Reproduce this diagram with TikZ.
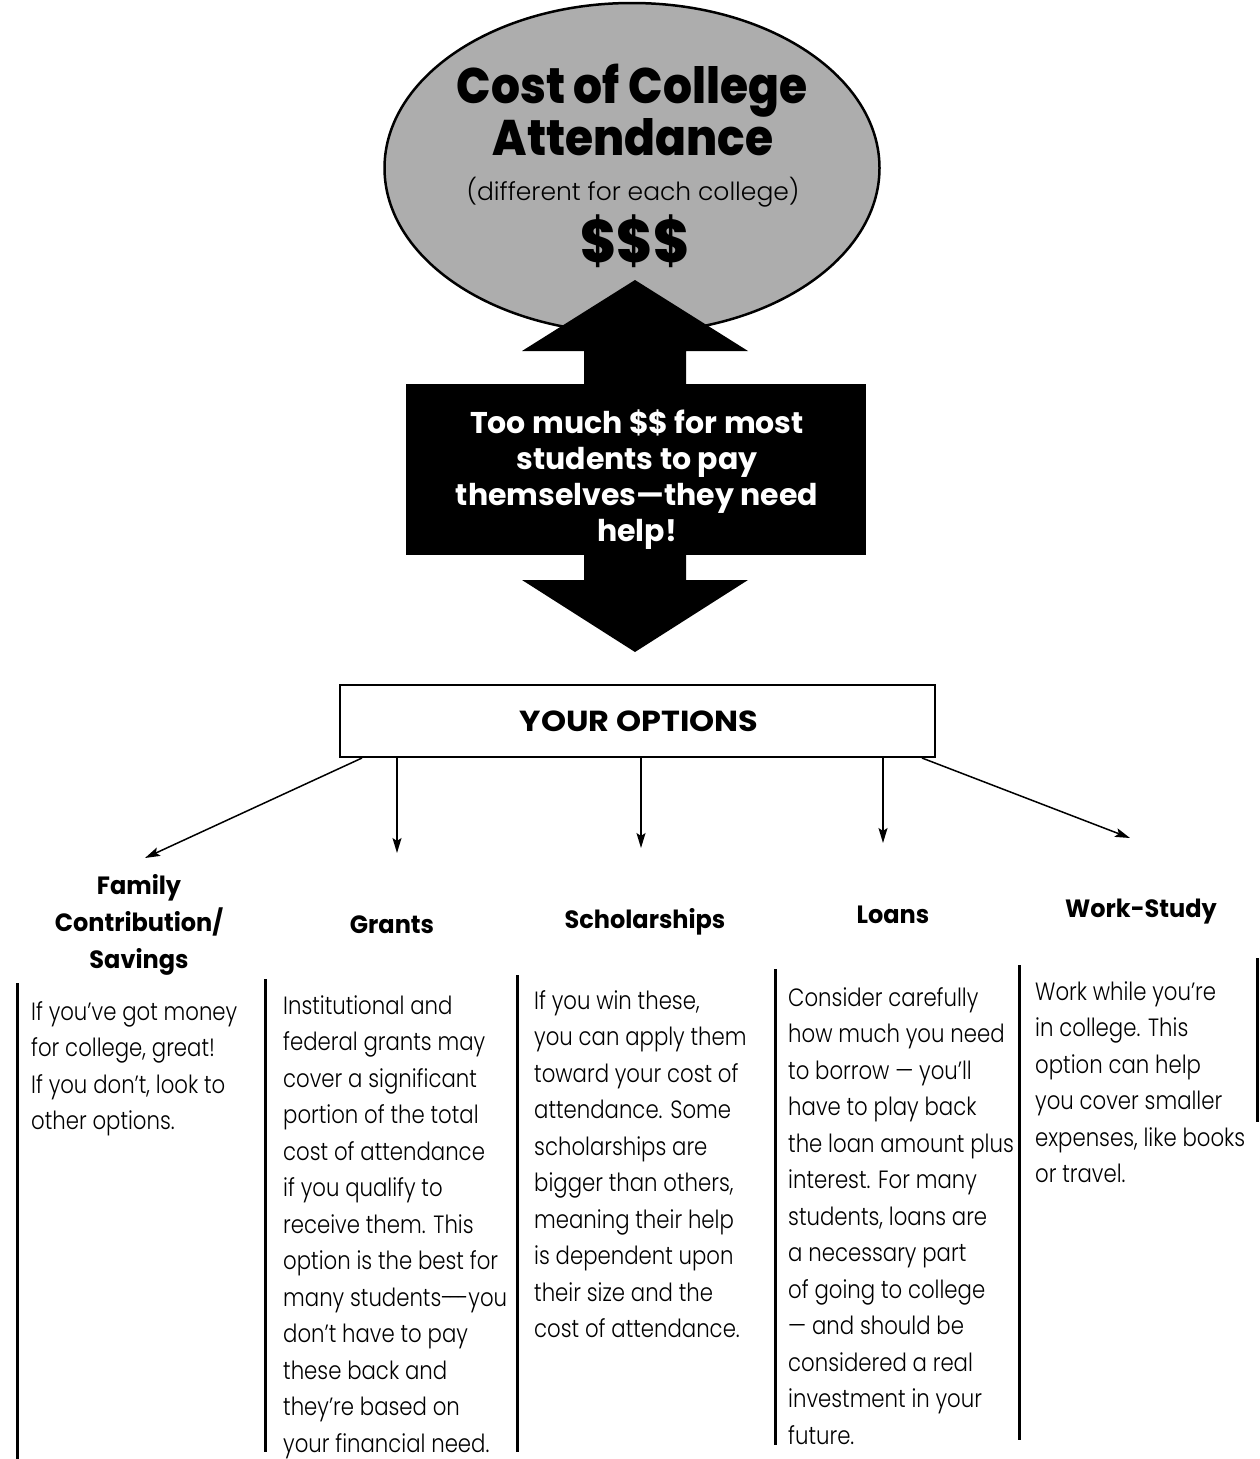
\documentclass[tikz,border=0pt]{standalone}
\usepackage{fontspec}
\usetikzlibrary{shapes.geometric,arrows.meta}
\newfontfamily\bodyf{Poppins Light}[FakeStretch=0.85]
\newfontfamily\subf{Poppins Light}
\newfontfamily\headf{Poppins Bold}[FakeStretch=0.96]
\newfontfamily\helpf{Poppins Bold}
\newfontfamily\heavyf{Poppins ExtraBold}[FakeStretch=0.91]
\newfontfamily\optf{Poppins Bold}[FakeStretch=1.1]
\tikzset{
  bodytext/.style={anchor=north west, inner sep=0pt, align=left,
    font=\bodyf\fontsize{25}{36.5}\selectfont},
  headtext/.style={anchor=base, inner sep=0pt, font=\headf\fontsize{25}{37}\selectfont},
  bar/.style={line width=3pt},
  optarrow/.style={line width=1.5pt, -{Stealth[length=15pt,width=9pt,inset=3pt]}},
}
\begin{document}
\begin{tikzpicture}[x=1pt,y=-1pt]
\useasboundingbox (0,0) rectangle (1260,1459);
% top ellipse
\node[ellipse, draw, line width=2.5pt, fill=black!32, minimum width=495pt,
  minimum height=330pt, inner sep=0pt] (cost) at (632,168) {};
\node[anchor=base, inner sep=0pt, font=\heavyf\fontsize{50}{50}\selectfont] (c1) at (632,103) {Cost of College};
\node[anchor=base, inner sep=0pt, font=\heavyf\fontsize{50}{50}\selectfont] (c2) at (633,155) {Attendance};
\node[anchor=base, inner sep=0pt, font=\subf\fontsize{25}{25}\selectfont] (c3) at (633,200) {(different for each college)};
\node[anchor=base, inner sep=0pt, font=\heavyf\fontsize{60}{60}\selectfont] (c4) at (635,262) {\$\$\$};
% double arrow
\fill[black] (635,280) -- (748,351) -- (686,351) -- (686,580) -- (748,580) -- (635,652)
  -- (522,580) -- (584,580) -- (584,351) -- (522,351) -- cycle;
\node[fill=black, minimum width=460pt, minimum height=171pt, inner sep=0pt] (help) at (636,469.5) {};
\node[anchor=north, inner sep=0pt, align=center, text=white,
  font=\helpf\fontsize{30}{36}\selectfont] (helptxt) at (637,409.8)
  {Too much \$\$ for most\\students to pay\\themselves—they need\\help!};
% options box
\node[draw, line width=2pt, minimum width=595pt, minimum height=72pt, inner sep=0pt] (opts) at (637.5,721) {};
\node[anchor=base, inner sep=0pt, font=\optf\fontsize{29}{29}\selectfont] (optstxt) at (639,731) {YOUR OPTIONS};
% arrow ends
\coordinate (e1) at (145,858);
\coordinate (e2) at (397,853);
\coordinate (e3) at (641,848);
\coordinate (e4) at (883,843);
\coordinate (e5) at (1130,838);
\draw[optarrow] ([xshift=-275.5pt]opts.south) -- (e1);
\draw[optarrow] ([xshift=-240.5pt]opts.south) -- (e2);
\draw[optarrow] ([xshift=3.5pt]opts.south) -- (e3);
\draw[optarrow] ([xshift=245.5pt]opts.south) -- (e4);
\draw[optarrow] ([xshift=284.5pt]opts.south) -- (e5);
% headings
\node[anchor=north, inner sep=0pt, align=center, font=\headf\fontsize{25}{37}\selectfont] (hfam) at (139,874.1)
  {Family\\Contribution/\\Savings};
\node[headtext] (hgrants) at (392,933) {Grants};
\node[headtext] (hschol) at (645,928) {Scholarships};
\node[headtext] (hloans) at (893,923) {Loans};
\node[headtext] (hwork) at (1141,917) {Work-Study};
% bars
\draw[bar] (17,983) -- (17,1459);
\draw[bar] (265,979) -- (265,1452);
\draw[bar] (517,975) -- (517,1452);
\draw[bar] (775,969) -- (775,1445);
\draw[bar] (1019,965) -- (1019,1440);
\draw[bar] (1257,958) -- (1257,1122);
% body texts
\node[bodytext] (b1) at (31,994.5) {\strut If you’ve got money\\for college, great!\\If you don’t, look to\\other options.};
\node[bodytext] (b2) at (283,988.5) {\strut Institutional and\\federal grants may\\cover a significant\\portion of the total\\cost of attendance\\if you qualify to\\receive them. This\\option is the best for\\many students{-}\kern-3pt{-}\kern-3pt{-}you\\don’t have to pay\\these back and\\they’re based on\\your financial need.};
\node[bodytext] (b3) at (534,983.5) {\strut If you win these,\\you can apply them\\toward your cost of\\attendance. Some\\scholarships are\\bigger than others,\\meaning their help\\is dependent upon\\their size and the\\cost of attendance.};
\node[bodytext] (b4) at (788,980.5) {\strut Consider carefully\\how much you need\\to borrow — you’ll\\have to play back\\the loan amount plus\\interest. For many\\students, loans are\\a necessary part\\of going to college\\— and should be\\considered a real\\investment in your\\future.};
\node[bodytext] (b5) at (1035,974.5) {\strut Work while you’re\\in college. This\\option can help\\you cover smaller\\expenses, like books\\or travel.};
\end{tikzpicture}
\end{document}
